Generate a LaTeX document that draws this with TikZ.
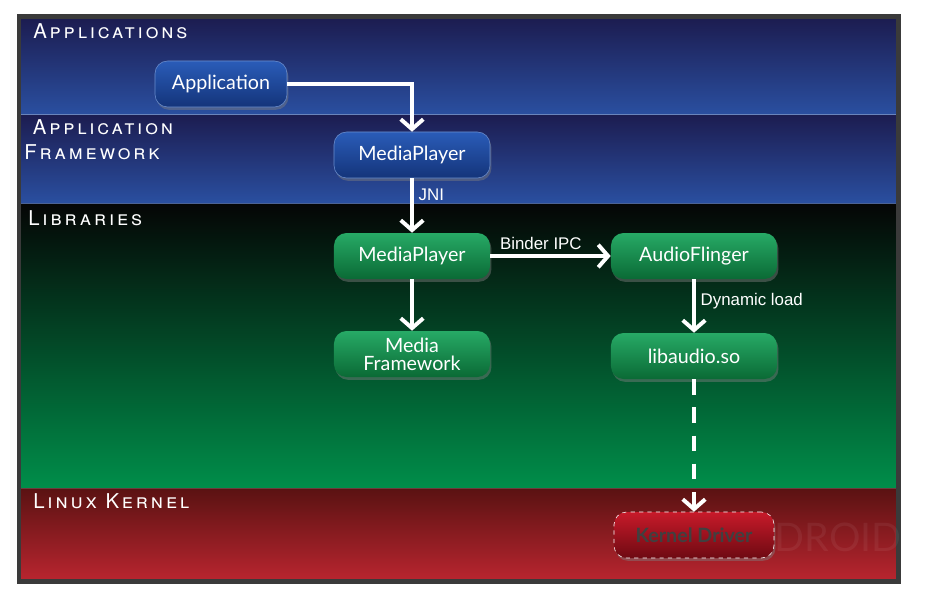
\documentclass[tikz,border=0pt]{standalone}
\usepackage{fontspec}
\setmainfont{Lato}
\newfontfamily\arialfont{Liberation Sans}
\newfontfamily\layerfont[LetterSpace=14]{TeX Gyre Heros}
\usetikzlibrary{arrows.meta, shadows}

\definecolor{appt}{HTML}{1C1C50}
\definecolor{appb}{HTML}{2A4FA0}
\definecolor{libt}{HTML}{050505}
\definecolor{libb}{HTML}{008E4A}
\definecolor{krt}{HTML}{5A1212}
\definecolor{krb}{HTML}{B8252F}
\definecolor{bluet}{HTML}{2A5CB8}
\definecolor{blueb}{HTML}{14347A}
\definecolor{greent}{HTML}{27AA66}
\definecolor{greenb}{HTML}{0A6A35}
\definecolor{redt}{HTML}{C81A2A}
\definecolor{redb}{HTML}{6E0A12}
\definecolor{framecol}{HTML}{3A3A3A}

\begin{document}
\begin{tikzpicture}[
    x=0.025cm, y=-0.025cm,
    box/.style={rounded corners=9pt, minimum height=1.15cm, text=white, align=center,
        font=\fontsize{14}{15}\selectfont,
        drop shadow={opacity=0.45, shadow xshift=1pt, shadow yshift=-2pt}},
    bluebox/.style={box, top color=bluet, bottom color=blueb, draw=bluet!70!white, line width=0.4pt},
    greenbox/.style={box, top color=greent, bottom color=greenb},
    kernbox/.style={box, top color=redt, bottom color=redb, draw=white, dashed, text=black!75,
        font=\fontsize{14}{15}\selectfont\bfseries},
    wire/.style={-{Straight Barb[length=7pt, width=16pt]}, white, line width=2.8pt},
    lbl/.style={text=white, font=\arialfont\fontsize{12}{14}\selectfont},
    layer/.style={text=white, anchor=north west, align=left, inner sep=0pt,
        font=\layerfont\fontsize{14.5}{18}\selectfont}
]
    \useasboundingbox (0,0) rectangle (928,600);

    % layers
    \shade[top color=appt, bottom color=appb] (20,18) rectangle (897,114);
    \shade[top color=appt, bottom color=appb] (20,114) rectangle (897,203);
    \shade[top color=libt, bottom color=libb] (20,203) rectangle (897,488);
    \shade[top color=krt, bottom color=krb] (20,488) rectangle (897,580);
    \draw[appb!70!white] (20,114) -- (897,114);
    \draw[appb!60!gray] (20,203) -- (897,203);
    \draw[krt!60!gray] (20,488) -- (897,488);
    \draw[framecol, line width=3pt] (19,16.5) rectangle (898.5,581.5);

    \node[layer] (lapp) at (33,23) {\textsc{Applications}};
    \node[layer] (lfw) at (24,119) {\textsc{\ Application}\\\textsc{Framework}};
    \node[layer] (llib) at (28,210) {\textsc{Libraries}};
    \node[layer] (lkern) at (33,493) {\textsc{Linux Kernel}};

    \node[text=white, opacity=0.06, font=\fontsize{28}{28}\selectfont\mdseries] (wm) at (838,537) {DROID};

    % components
    \node[bluebox, minimum width=3.3cm] (app) at (221,84) {Application};
    \node[bluebox, minimum width=3.9cm] (fwmp) at (412,155) {MediaPlayer};
    \node[greenbox, minimum width=3.9cm] (libmp) at (412,256) {MediaPlayer};
    \node[greenbox, minimum width=3.9cm] (mf) at (412,354) {Media\\[-2pt]Framework};
    \node[greenbox, minimum width=4.15cm] (af) at (694,256) {AudioFlinger};
    \node[greenbox, minimum width=4.15cm] (libaudio) at (694,356) {libaudio.so};
    \node[kernbox, minimum width=4cm] (kd) at (694,535) {Kernel Driver};

    % calls
    \draw[wire] (app.east) -| (fwmp.north);
    \draw[wire] (fwmp) -- node[lbl, right, pos=0.3] {JNI} (libmp);
    \draw[wire] (libmp) -- node[lbl, above, pos=0.42] {Binder IPC} (af);
    \draw[wire] (libmp) -- (mf);
    \draw[wire] (af) -- node[lbl, right, pos=0.4] {Dynamic load} (libaudio);
    \draw[wire, dash pattern=on 11pt off 9pt] (libaudio) -- (kd);
\end{tikzpicture}
\end{document}
